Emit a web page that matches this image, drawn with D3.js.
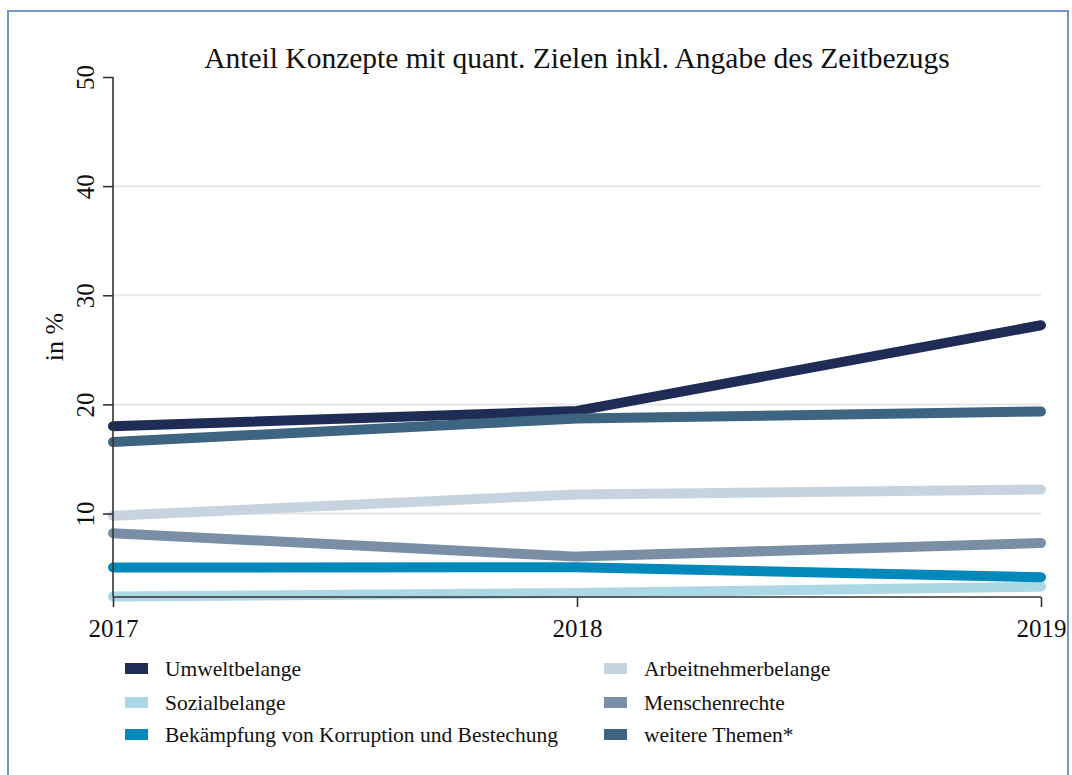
<!DOCTYPE html>
<html>
<head>
<meta charset="utf-8">
<script src="https://cdn.jsdelivr.net/npm/d3@7"></script>
<style>
  html, body { margin: 0; padding: 0; background: #fff; }
  svg { display: block; font-family: "Liberation Serif", "Times New Roman", serif; }
</style>
</head>
<body>
<svg id="chart" width="1072" height="775"></svg>
<script>
const title = "Anteil Konzepte mit quant. Zielen inkl. Angabe des Zeitbezugs";
const yLabel = "in %";
const years = [2017, 2018, 2019];
const yTicks = [10, 20, 30, 40, 50];
const yMin = 2.35, yMax = 50;

const seriesNames = ["Umweltbelange", "Arbeitnehmerbelange", "Sozialbelange", "Menschenrechte",
  "Bekämpfung von Korruption und Bestechung", "weitere Themen*"];
const seriesColors = ["#1f2d56", "#c7d3df", "#acd8e5", "#7a8fa6", "#0189bb", "#3d6480"];
const umwelt = [18.0, 19.4, 27.25];
const arbeitnehmer = [9.8, 11.75, 12.2];
const sozial = [2.4, 2.72, 3.3];
const menschen = [8.2, 6.05, 7.3];
const korruption = [5.05, 5.07, 4.16];
const weitere = [16.55, 18.7, 19.35];
const seriesValues = [umwelt, arbeitnehmer, sozial, menschen, korruption, weitere];
// draw order (bottom -> top)
const drawOrder = [2, 4, 3, 1, 0, 5];

const svg = d3.select("#chart");
const L = 113, R = 1041, T = 77, B = 597;

const x = d3.scaleLinear().domain([2017, 2019]).range([L, R]);
const y = d3.scaleLinear().domain([yMin, yMax]).range([B, T]);

// frame
svg.append("rect").attr("x", 8).attr("y", 11).attr("width", 1060).attr("height", 800)
  .attr("fill", "none").attr("stroke", "#7096cc").attr("stroke-width", 2);

// title
svg.append("text").attr("x", (L + R) / 2).attr("y", 68).attr("text-anchor", "middle")
  .attr("font-size", 29.5).attr("fill", "#111").text(title);

// gridlines
svg.append("g").selectAll("line").data(yTicks.filter(d => d < yMax)).join("line")
  .attr("x1", L).attr("x2", R).attr("y1", d => y(d)).attr("y2", d => y(d))
  .attr("stroke", "#e6e6e6").attr("stroke-width", 2);

// lines
const line = d3.line().x((d, i) => x(years[i])).y(d => y(d));
svg.append("g").selectAll("path").data(drawOrder).join("path")
  .attr("d", i => line(seriesValues[i]))
  .attr("fill", "none").attr("stroke", i => seriesColors[i])
  .attr("stroke-width", 10).attr("stroke-linecap", "round").attr("stroke-linejoin", "round");

// y axis
const yAxis = svg.append("g").attr("transform", `translate(${L},0)`)
  .call(d3.axisLeft(y).tickValues(yTicks).tickSize(10).tickFormat(d3.format("d")));
yAxis.select(".domain").attr("stroke", "#333").attr("stroke-width", 1.6).attr("d", `M0,${T}V${B}`);
yAxis.selectAll(".tick line").attr("stroke", "#333").attr("stroke-width", 1.6);
yAxis.selectAll(".tick text").attr("x", null).attr("dy", null)
  .attr("transform", "translate(-19,0) rotate(-90)")
  .attr("text-anchor", "middle").attr("font-size", 25).attr("fill", "#111")
  .attr("font-family", "Liberation Serif, Times New Roman, serif");

// x axis
const xAxis = svg.append("g").attr("transform", `translate(0,${B})`)
  .call(d3.axisBottom(x).tickValues(years).tickSize(10).tickFormat(d3.format("d")));
xAxis.select(".domain").attr("stroke", "#333").attr("stroke-width", 1.6).attr("d", `M${L},0H${R}`);
xAxis.selectAll(".tick line").attr("stroke", "#333").attr("stroke-width", 1.6);
xAxis.selectAll(".tick text").attr("y", 40).attr("dy", null)
  .attr("font-size", 25).attr("fill", "#111")
  .attr("font-family", "Liberation Serif, Times New Roman, serif");

// y label
svg.append("text").attr("transform", `translate(63,${(T + B) / 2}) rotate(-90)`)
  .attr("text-anchor", "middle").attr("font-size", 26).attr("fill", "#111").text(yLabel);

// legend
const legX = [125, 604], legY = [663, 697, 729];
const leg = svg.append("g").selectAll("g").data(seriesNames).join("g")
  .attr("transform", (d, i) => `translate(${legX[i % 2]},${legY[Math.floor(i / 2)]})`);
leg.append("rect").attr("width", 23).attr("height", 11).attr("fill", (d, i) => seriesColors[i]);
leg.append("text").attr("x", 40).attr("y", 13).attr("font-size", 21.5).attr("fill", "#111").text(d => d);
</script>
</body>
</html>
